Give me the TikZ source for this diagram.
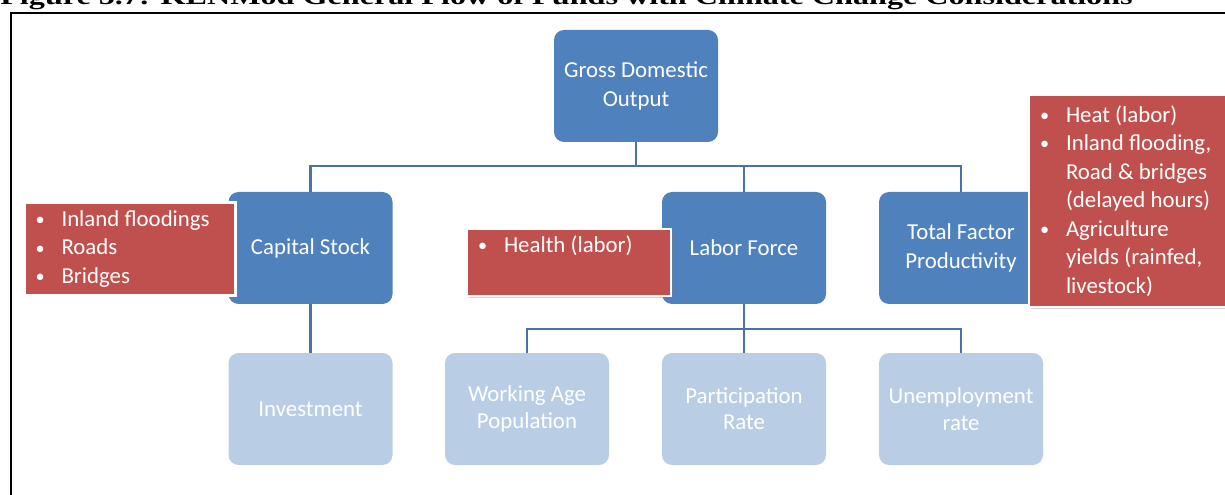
\documentclass[tikz,border=0pt]{standalone}
\usepackage{fontspec}
\setmainfont{Carlito}
\newfontfamily\titlefont{Liberation Serif}
\usetikzlibrary{shadows}
\definecolor{dkblue}{HTML}{4F81BD}
\definecolor{ltblue}{HTML}{B9CDE5}
\definecolor{redfill}{HTML}{C0504D}
\definecolor{conn}{HTML}{4A72A8}
\newcommand\bul{\makebox[15.6pt][l]{\raisebox{0.5pt}{\scalebox{0.8}{•}}}}
\newcommand\ind{\hspace*{15.6pt}}
\DeclareRobustCommand\fixspace{\spaceskip=0.23em\relax}
\begin{document}
\begin{tikzpicture}[x=0.6pt,y=-0.6pt,
  mainbox/.style={rectangle, rounded corners=6pt, fill=dkblue, text=white,
    minimum width=98.4pt, minimum height=67.2pt, align=center, inner sep=2pt,
    font=\fontsize{13.7}{17.1}\selectfont},
  subbox/.style={mainbox, fill=ltblue, font=\fontsize{13.7}{15.8}\selectfont},
  redbox/.style={rectangle, fill=redfill, draw=white, line width=1.5pt, text=white,
    align=left, inner xsep=6.6pt, inner ysep=2pt,
    font=\fontsize{13.7}{17.1}\selectfont,
    drop shadow={opacity=0.35, shadow xshift=1pt, shadow yshift=-1pt}},
  link/.style={draw=conn, line width=1.5pt}]
\useasboundingbox (0,0) rectangle (1225,495);

% title (clipped at top) and frame
\node[anchor=base west, inner sep=0pt,
  font=\titlefont\bfseries\fontsize{19.3}{20}\selectfont] (title) at (0,4.5)
  {\scalebox{1}[0.75]{Figure 5.7: KENMod General Flow of Funds with Climate Change Considerations}};
\draw[line width=1.2pt] (11,520) -- (11,13) -- (1240,13);

% boxes
\node[mainbox] (gdo) at (636,86) {Gross Domestic\\Output};
\node[mainbox] (cap) at (310.5,248) {Capital Stock};
\node[mainbox] (lab) at (744,248) {Labor Force};
\node[mainbox] (tfp) at (961,248) {Total Factor\\Productivity};
\node[subbox] (inv) at (310.5,409) {Investment};
\node[subbox] (wap) at (527,409) {Working Age\\Population};
\node[subbox] (par) at (744,409) {Participation\\Rate};
\node[subbox] (une) at (961,409) {Unemployment\\rate};

% connectors
\coordinate (bus1) at (636,166);
\coordinate (bus2) at (744,329);
\draw[link] (gdo.south) -- (bus1);
\draw[link] (cap.north) |- (bus1) -| (tfp.north);
\draw[link] (lab.north) -- (lab.north |- bus1);
\draw[link] (lab.south) -- (par.north);
\draw[link] (wap.north) |- (bus2) -| (une.north);
\draw[link] (cap.south) -- (inv.north);

% climate impact boxes
\node[redbox, text width=113.4pt, minimum height=55.8pt] (r1) at (130,249)
  {\fixspace\bul Inland floodings\\\bul Roads\\\bul Bridges};
\node[redbox, text width=109.2pt, minimum height=40.2pt] (r2) at (569,262.5)
  {\fixspace\bul Health (labor)\\\strut};
\node[redbox, text width=114pt, minimum height=127.2pt] (r3) at (1135,201)
  {\fixspace\bul Heat (labor)\\\bul Inland flooding,\\\ind Road \& bridges\\\ind (delayed hours)\\\bul Agriculture\\\ind yields (rainfed,\\\ind livestock)};
\end{tikzpicture}
\end{document}
